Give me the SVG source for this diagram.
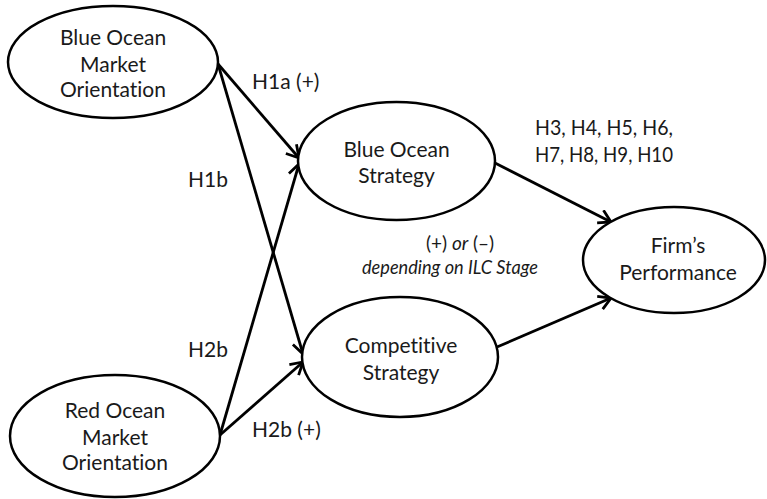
<svg xmlns="http://www.w3.org/2000/svg" width="767" height="499" viewBox="0 0 767 499">
<style>
.node ellipse{fill:#fff;stroke:#000;stroke-width:2.5}
text{font-family:Lato,"Liberation Sans",sans-serif;font-size:21px;fill:#1a1a1a;font-variant-ligatures:none}
.c{text-anchor:middle}
.it{font-style:italic}
.conn line{stroke:#000;stroke-width:2.8;marker-end:url(#ah)}
.note{font-size:19px}
</style>
<defs>
<marker id="ah" markerUnits="userSpaceOnUse" markerWidth="20" markerHeight="20" refX="14" refY="8" orient="auto">
<path d="M2,1 L14,8 L2,15" fill="none" stroke="#000" stroke-width="2.8" stroke-linejoin="miter"/>
</marker>
</defs>
<rect width="767" height="499" fill="#fff"/>
<g class="conn" id="connectors">
<line x1="218" y1="64" x2="299" y2="158"/>
<line x1="218" y1="64" x2="303" y2="354"/>
<line x1="220" y1="435" x2="299" y2="164"/>
<line x1="220" y1="435" x2="303" y2="362"/>
<line x1="495" y1="163" x2="611" y2="222"/>
<line x1="497" y1="347" x2="611" y2="298"/>
</g>
<g class="node" id="bomo">
<ellipse cx="113" cy="62" rx="105" ry="56"/>
<text class="c" x="113" y="45">Blue Ocean</text>
<text class="c" x="113" y="72">Market</text>
<text class="c" x="113" y="97">Orientation</text>
</g>
<g class="node" id="romo">
<ellipse cx="115" cy="436" rx="105" ry="61"/>
<text class="c" x="115" y="418">Red Ocean</text>
<text class="c" x="115" y="445">Market</text>
<text class="c" x="115" y="470">Orientation</text>
</g>
<g class="node" id="bos">
<ellipse cx="396.5" cy="161" rx="98.5" ry="59"/>
<text class="c" x="396.5" y="157">Blue Ocean</text>
<text class="c" x="396.5" y="183">Strategy</text>
</g>
<g class="node" id="cs">
<ellipse cx="400" cy="357" rx="98" ry="60"/>
<text class="c" x="401" y="353">Competitive</text>
<text class="c" x="401" y="380">Strategy</text>
</g>
<g class="node" id="fp">
<ellipse cx="674" cy="260" rx="91" ry="53"/>
<text class="c" x="678" y="253">Firm’s</text>
<text class="c" x="678" y="280">Performance</text>
</g>
<g id="labels">
<text x="252" y="89">H1a (+)</text>
<text x="188" y="187">H1b</text>
<text x="188" y="357">H2b</text>
<text x="252" y="437">H2b (+)</text>
<text x="535" y="135" textLength="138" lengthAdjust="spacingAndGlyphs">H3, H4, H5, H6,</text>
<text x="535" y="162" textLength="138" lengthAdjust="spacingAndGlyphs">H7, H8, H9, H10</text>
<text class="note" x="426" y="250">(+)</text>
<text class="note it" x="452" y="250">or</text>
<text class="note" x="473" y="250">(–)</text>
<text class="note it" x="362" y="274" textLength="176" lengthAdjust="spacingAndGlyphs">depending on ILC Stage</text>
</g>
</svg>
